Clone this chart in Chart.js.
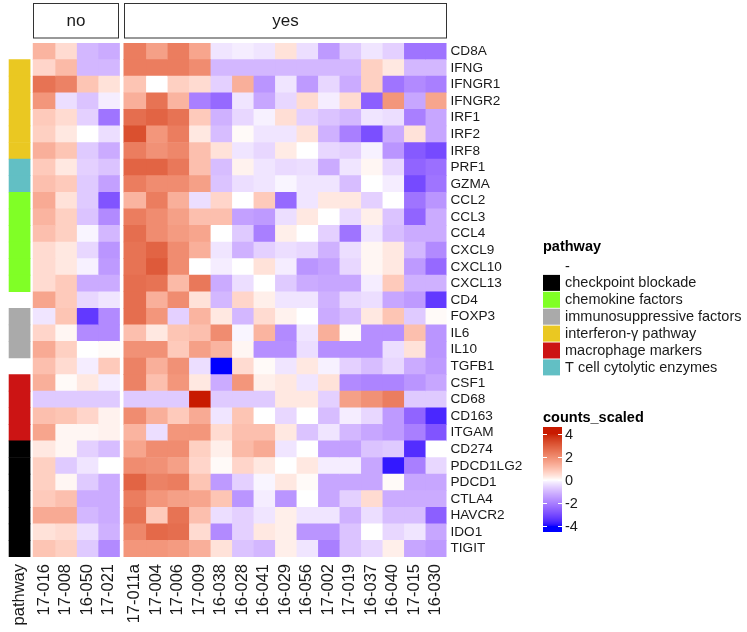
<!DOCTYPE html>
<html>
<head>
<meta charset="utf-8">
<script src="https://cdn.jsdelivr.net/npm/chart.js@4.4.1/dist/chart.umd.min.js"></script>
<style>
  html, body { margin: 0; padding: 0; background: #fff; }
</style>
</head>
<body>
<canvas id="heat" width="747" height="632"></canvas>
<script>
const genes = ['CD8A','IFNG','IFNGR1','IFNGR2','IRF1','IRF2','IRF8','PRF1','GZMA','CCL2','CCL3','CCL4',
  'CXCL9','CXCL10','CXCL13','CD4','FOXP3','IL6','IL10','TGFB1','CSF1','CD68','CD163','ITGAM','CD274',
  'PDCD1LG2','PDCD1','CTLA4','HAVCR2','IDO1','TIGIT']
const samplesNo = ['17-016','17-008','16-050','17-021']
const samplesYes = ['17-011a','17-004','17-006','17-009','16-038','16-028','16-041','16-029','16-056',
  '17-002','17-019','16-037','16-040','17-015','16-030']

const pathwayLevels = ['-','checkpoint blockade','chemokine factors','immunosuppressive factors',
  'interferon-\u03b3 pathway','macrophage markers','T cell cytolytic enzymes']
const pathwayColors = ['rgba(0,0,0,0)','#000000','#80FF26','#AAAAAA','#EAC822','#CC1414','#62BFC4']
const genePathway = ['-','interferon-\u03b3 pathway','interferon-\u03b3 pathway','interferon-\u03b3 pathway',
  'interferon-\u03b3 pathway','interferon-\u03b3 pathway','interferon-\u03b3 pathway',
  'T cell cytolytic enzymes','T cell cytolytic enzymes',
  'chemokine factors','chemokine factors','chemokine factors','chemokine factors','chemokine factors','chemokine factors',
  '-','immunosuppressive factors','immunosuppressive factors','immunosuppressive factors','-',
  'macrophage markers','macrophage markers','macrophage markers','macrophage markers',
  'checkpoint blockade','checkpoint blockade','checkpoint blockade','checkpoint blockade',
  'checkpoint blockade','checkpoint blockade','checkpoint blockade']

// counts_scaled, one row per gene
const scaledNo = [
  [1.2, 0.5, -1.0, -1.2],
  [0.6, 1.1, -1.0, -1.0],
  [2.5, 2.2, 0.9, 0.4],
  [1.8, -0.4, -0.8, -0.2],
  [0.8, 0.5, -0.6, -2.2],
  [0.7, 0.3, 0.0, -0.4],
  [1.3, 0.9, -0.7, -1.2],
  [0.8, 0.3, -0.6, -0.8],
  [1.0, 0.8, -0.7, -1.4],
  [1.4, 0.4, -0.7, -2.8],
  [1.2, 0.7, -0.8, -1.8],
  [1.0, 0.7, -0.1, -1.0],
  [0.5, 0.3, -0.5, -1.6],
  [0.5, 0.3, -0.15, -1.5],
  [0.5, 0.8, -1.2, -1.2],
  [1.5, 0.8, -0.5, -0.3],
  [-0.3, 0.9, -3.3, -1.8],
  [0.6, 0.1, -1.8, -1.8],
  [1.4, 0.7, 0.0, 0.05],
  [1.0, 0.5, -0.2, 0.8],
  [1.3, 0.05, 0.3, -0.2],
  [-0.7, -0.7, -0.7, -0.7],
  [1.0, 0.9, 0.6, 0.15],
  [1.5, 0.1, 0.1, 0.15],
  [0.3, 0.1, -0.6, -0.9],
  [0.7, -0.7, -0.3, 0.0],
  [0.7, 0.1, -0.7, -1.2],
  [0.8, 1.0, -1.2, -1.2],
  [1.4, 1.4, -1.0, -1.2],
  [0.4, 0.5, -0.4, -1.1],
  [0.9, 0.7, -0.7, -1.8]
]
const scaledYes = [
  [2.3, 1.6, 2.3, 1.5, -0.3, -0.2, -0.3, 0.4, -0.4, -1.5, -0.7, -0.3, -0.6, -2.2, -2.2],
  [2.3, 2.3, 2.3, 2.0, -1.0, -1.0, -1.0, -1.0, -1.0, -1.0, -1.0, 0.7, 0.3, -1.0, -1.0],
  [0.9, 0.0, 0.7, 0.5, -0.6, 1.3, -1.6, -0.3, -1.5, -0.5, -1.2, 0.7, -2.2, -1.8, -2.0],
  [1.3, 2.5, 1.2, -2.0, -2.4, -0.3, -1.3, -0.5, 0.5, -0.2, 0.5, -2.6, 1.8, -1.3, 1.5],
  [2.6, 2.8, 2.5, 0.8, -1.1, -0.5, -0.15, 0.45, -0.6, -0.8, -1.0, -0.3, -0.4, -2.0, -1.3],
  [3.2, 1.8, 2.3, 0.3, -0.9, 0.05, -0.3, -0.3, 0.4, -1.1, -2.0, -2.9, -1.2, 0.4, -1.3],
  [2.3, 1.9, 2.1, 1.0, 0.4, -0.3, -0.5, 0.25, 0.0, -0.5, -0.6, -0.15, -1.6, -2.7, -3.0],
  [2.8, 2.8, 2.4, 1.0, -0.9, 0.15, -0.3, -0.45, -0.4, -1.2, -0.3, 0.1, -0.5, -2.5, -2.3],
  [2.3, 2.0, 2.0, 1.6, -0.8, -0.4, -0.3, -0.1, -0.3, -0.3, -0.9, 0.0, -0.2, -3.0, -2.2],
  [1.2, 2.3, 1.3, -0.4, 0.6, 0.0, 0.8, -2.4, -0.3, 0.3, 0.3, -0.6, 0.0, -2.2, -1.6],
  [2.3, 2.0, 1.6, 1.0, 1.0, -1.4, -1.5, -0.4, 0.3, 0.0, -0.45, 0.2, -0.8, -2.5, -1.2],
  [2.6, 2.0, 1.7, 1.5, 0.0, -0.7, -2.0, 0.2, 0.0, -0.6, -2.2, -0.3, -0.9, -1.2, -1.2],
  [2.5, 2.8, 2.0, 1.3, -0.3, -1.1, -0.6, -0.4, -0.5, -1.1, -0.4, 0.1, 0.3, -1.0, -1.8],
  [2.5, 3.0, 2.0, 0.0, -0.2, 0.0, 0.4, -0.2, -1.6, -1.4, -0.5, 0.1, 0.3, -1.5, -2.4],
  [2.6, 2.5, 1.1, 2.4, -1.2, -0.4, 0.0, -0.7, -1.2, -1.3, -1.3, -0.2, 0.8, -1.1, -1.1],
  [2.6, 1.3, 2.0, 0.4, -1.0, 0.6, 0.2, -0.3, -0.3, -1.1, -0.5, -0.4, -1.3, -1.5, -3.3],
  [2.6, 1.8, -0.6, 1.2, 0.3, -1.0, 0.5, 0.15, 0.0, -1.2, -0.9, 0.3, 0.9, -0.7, 0.05],
  [1.0, 0.3, 0.9, 1.0, 2.0, -0.1, 1.2, -1.8, -0.3, 1.3, 0.05, -1.7, -1.7, 1.0, -1.6],
  [1.9, 1.9, 0.8, 1.6, 1.2, 0.1, -1.7, -1.7, -0.4, -1.7, -1.7, -1.7, -0.4, 0.4, -1.6],
  [2.2, 1.3, 1.9, -0.4, -4.0, 0.5, 0.05, -0.3, 0.3, -0.15, -0.6, -0.9, -0.5, -1.2, -1.5],
  [2.2, 1.0, 1.8, 0.3, -1.2, 1.8, 0.2, 0.3, -0.3, 0.4, -1.8, -1.9, -1.9, -1.6, -1.3],
  [-0.7, -0.7, -0.7, 4.3, -0.7, -0.7, -0.7, 0.3, 0.3, -0.6, 1.6, 1.9, 2.3, -0.7, -0.7],
  [2.0, 1.3, 0.8, 1.4, -0.3, 0.9, 0.0, -0.5, 0.0, -0.9, -0.2, -0.5, -1.5, -2.5, -3.6],
  [1.2, -0.4, 1.8, 1.8, 0.5, 1.0, 1.0, 0.3, -0.8, -0.3, -1.0, -1.3, -1.5, -2.0, -2.8],
  [1.5, 2.0, 2.0, 0.7, 0.2, 1.1, 1.4, -0.3, 0.0, -1.4, -1.4, -0.8, -0.7, -3.5, 0.0],
  [2.0, 1.9, 1.6, 0.6, 0.05, 0.6, 0.3, 0.0, 0.3, -0.2, -0.2, -1.3, -3.8, -2.0, -0.5],
  [2.8, 2.2, 2.3, 0.9, -1.5, -0.6, -0.1, 0.3, 0.05, -1.3, -1.3, -1.3, 0.05, -1.3, -1.3],
  [2.3, 1.8, 1.6, 1.5, 0.9, -1.6, -0.2, -1.6, 0.0, -1.3, -0.6, 0.5, -1.2, -1.2, -1.2],
  [2.5, 0.8, 2.5, 1.0, -0.4, -0.6, -0.3, 0.2, -0.3, -0.3, -1.1, -0.4, -0.9, -0.9, -2.6],
  [2.1, 2.7, 2.6, 0.5, -1.8, -0.6, 0.3, 0.2, -1.6, -1.6, -0.8, 0.0, -0.5, -0.3, -1.3],
  [1.8, 1.8, 1.7, 1.3, 0.4, -0.8, -1.0, 0.2, -0.3, -2.0, -0.8, -0.5, 0.2, -1.3, -1.5]
]
const colorTicks = [4, 2, 0, -2, -4]

// ---- colour scale: white mid, blue low, red high, interpolated in CIELAB ----
const lin = c => { c /= 255; return c <= 0.04045 ? c / 12.92 : Math.pow((c + 0.055) / 1.055, 2.4) }
const unlin = c => { const v = c <= 0.0031308 ? 12.92 * c : 1.055 * Math.pow(c, 1 / 2.4) - 0.055; return Math.round(Math.max(0, Math.min(1, v)) * 255) }
function toLab(hex) {
  const r = lin(parseInt(hex.slice(1, 3), 16)), g = lin(parseInt(hex.slice(3, 5), 16)), b = lin(parseInt(hex.slice(5, 7), 16))
  const X = (0.4124 * r + 0.3576 * g + 0.1805 * b) / 0.95047
  const Y = 0.2126 * r + 0.7152 * g + 0.0722 * b
  const Z = (0.0193 * r + 0.1192 * g + 0.9505 * b) / 1.08883
  const f = t => t > 0.008856 ? Math.cbrt(t) : 7.787 * t + 16 / 116
  return [116 * f(Y) - 16, 500 * (f(X) - f(Y)), 200 * (f(Y) - f(Z))]
}
function fromLab([L, a, bb]) {
  const fy = (L + 16) / 116, fx = fy + a / 500, fz = fy - bb / 200
  const fi = t => t * t * t > 0.008856 ? t * t * t : (t - 16 / 116) / 7.787
  const X = fi(fx) * 0.95047, Y = fi(fy), Z = fi(fz) * 1.08883
  const r = 3.2406 * X - 1.5372 * Y - 0.4986 * Z
  const g = -0.9689 * X + 1.8758 * Y + 0.0415 * Z
  const b = 0.0557 * X - 0.2040 * Y + 1.0570 * Z
  return `rgb(${unlin(r)},${unlin(g)},${unlin(b)})`
}
const labLow = toLab('#0000FF'), labMid = toLab('#FFFFFF'), labHigh = toLab('#C81A00')
const limit = 4.0
function fillFor(v) {
  const t = Math.max(-1, Math.min(1, v / limit))
  const end = t < 0 ? labLow : labHigh, k = Math.pow(Math.abs(t), 0.85)
  return fromLab(labMid.map((m, i) => m + (end[i] - m) * k))
}

// ---- column layout (in column widths) ----
const annotAt = -1.15
const yesGap = 0.22
const colAt = i => i < samplesNo.length ? i : i + yesGap
const xMin = annotAt, xMax = colAt(samplesNo.length + samplesYes.length - 1) + 1
const allSamples = samplesNo.concat(samplesYes)
const allValues = scaledNo.map((row, r) => row.concat(scaledYes[r]))

const datasets = [{
  data: genes.map(() => [annotAt, annotAt + 1]),
  backgroundColor: genePathway.map(p => pathwayColors[pathwayLevels.indexOf(p)])
}]
allSamples.forEach((s, i) => {
  datasets.push({
    label: s,
    data: genes.map(() => [colAt(i) - 0.01, colAt(i) + 1.01]),
    backgroundColor: genes.map((g, r) => fillFor(allValues[r][i]))
  })
})
datasets.forEach(d => Object.assign(d, { barPercentage: 1, categoryPercentage: 1, grouped: false, borderWidth: 0 }))

const tickVals = [annotAt + 0.5].concat(allSamples.map((s, i) => colAt(i) + 0.5))
const tickLabels = ['pathway'].concat(allSamples)

const FONT = '"Liberation Sans", Arial, Helvetica, sans-serif'
Chart.defaults.font.family = FONT
Chart.defaults.color = '#1a1a1a'

const stripPlugin = {
  id: 'strips',
  afterDraw(chart) {
    const { ctx, scales: { x } } = chart
    const boxes = [['no', colAt(0), colAt(samplesNo.length - 1) + 1],
                   ['yes', colAt(samplesNo.length), xMax]]
    ctx.save()
    boxes.forEach(([txt, a, b]) => {
      const x0 = Math.round(x.getPixelForValue(a)) + 0.5, x1 = Math.round(x.getPixelForValue(b)) - 0.5
      ctx.fillStyle = '#fff'
      ctx.fillRect(x0, 3.5, x1 - x0, 34.5)
      ctx.strokeStyle = '#333'
      ctx.lineWidth = 1
      ctx.strokeRect(x0, 3.5, x1 - x0, 34.5)
      ctx.fillStyle = '#1a1a1a'
      ctx.font = `17px ${FONT}`
      ctx.textAlign = 'center'
      ctx.textBaseline = 'middle'
      ctx.fillText(txt, (x0 + x1) / 2, 21)
    })
    ctx.restore()
  }
}

const legendPlugin = {
  id: 'legends',
  afterDraw(chart) {
    const ctx = chart.ctx
    const lx = 543
    ctx.save()
    ctx.textAlign = 'left'
    ctx.textBaseline = 'alphabetic'
    ctx.fillStyle = '#000'
    ctx.font = `bold 14.5px ${FONT}`
    ctx.fillText('pathway', lx, 251)
    ctx.font = `14.5px ${FONT}`
    pathwayLevels.forEach((p, i) => {
      const y = 258 + i * 16.9
      ctx.fillStyle = pathwayColors[i]
      ctx.fillRect(lx, y, 17, 16)
      ctx.fillStyle = '#1a1a1a'
      ctx.textBaseline = 'middle'
      ctx.fillText(p, 565, y + 8.5)
    })
    ctx.textBaseline = 'alphabetic'
    ctx.fillStyle = '#000'
    ctx.font = `bold 14.5px ${FONT}`
    ctx.fillText('counts_scaled', lx, 422)
    const zeroY = 480, per = 11.6, top = 427, bot = 532
    for (let y = top; y < bot; y++) {
      ctx.fillStyle = fillFor((zeroY - (y + 0.5)) / per)
      ctx.fillRect(lx, y, 19, 1)
    }
    ctx.font = `14.5px ${FONT}`
    ctx.textBaseline = 'middle'
    colorTicks.forEach(v => {
      const y = Math.round(zeroY - v * per) + 0.5
      ctx.strokeStyle = '#fff'
      ctx.lineWidth = 1
      ctx.beginPath()
      ctx.moveTo(lx, y); ctx.lineTo(lx + 4, y)
      ctx.moveTo(lx + 15, y); ctx.lineTo(lx + 19, y)
      ctx.stroke()
      ctx.fillStyle = '#1a1a1a'
      ctx.fillText(String(v), 565, y)
    })
    ctx.restore()
  }
}

new Chart(document.getElementById('heat'), {
  type: 'bar',
  data: { labels: genes, datasets },
  options: {
    indexAxis: 'y',
    responsive: false,
    animation: false,
    layout: { padding: { left: 8.6, right: 210.5, top: 43, bottom: 0 } },
    plugins: { legend: { display: false }, tooltip: { enabled: false } },
    scales: {
      y: {
        type: 'category',
        position: 'right',
        grid: { display: false, drawTicks: false },
        border: { display: false },
        ticks: { autoSkip: false, padding: 4, color: '#1a1a1a', font: { size: 13.6 } },
        afterFit: s => { s.width = 90 }
      },
      x: {
        type: 'linear',
        position: 'bottom',
        min: xMin,
        max: xMax,
        grid: { display: false, drawTicks: false },
        border: { display: false },
        afterBuildTicks: s => { s.ticks = tickVals.map(v => ({ value: v })) },
        ticks: {
          autoSkip: false,
          minRotation: 90,
          maxRotation: 90,
          padding: 7,
          color: '#1a1a1a',
          callback: (v, i) => tickLabels[i],
          font: { size: 16.5 }
        },
        afterFit: s => { s.height = 75 }
      }
    }
  },
  plugins: [stripPlugin, legendPlugin]
})
</script>
</body>
</html>
